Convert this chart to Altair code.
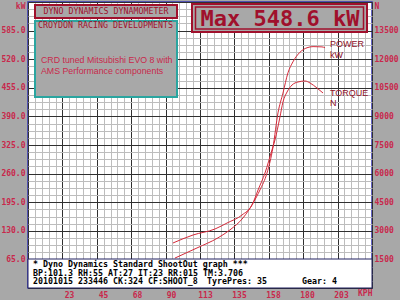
import altair as alt
import pandas as pd

# ---- data ----
speed_power = [92.6, 107.2, 121.1, 129.0, 137.6, 144.3, 148.9, 153.5, 157.5, 160.8,
               164.1, 167.4, 170.7, 175.4, 180.0, 184.0, 189.9, 191.9]
power_kw = [68, 91, 114, 132, 159, 193, 223, 261, 320, 398,
            443, 489, 514, 536, 546, 548.6, 548, 546]

speed_torque = [91.3, 104.6, 119.1, 127.1, 137.0, 143.6, 147.6, 152.2, 156.8, 158.8,
                162.1, 164.1, 166.8, 170.1, 174.0, 178.7, 182.0, 186.6, 190.6]
torque_n = [2360, 2780, 3094, 3409, 3829, 4353, 5140, 6031, 7238, 7762,
            8969, 9755, 10280, 10647, 10804, 10857, 10752, 10490, 10227]

x_ticks = [22.5, 45, 67.5, 90, 112.5, 135, 157.5, 180, 202.5]
kw_ticks = [65, 130, 195, 260, 325, 390, 455, 520, 585, 650]
n_ticks = [1500, 3000, 4500, 6000, 7500, 9000, 10500, 12000, 13500, 15000]

title1 = "DYNO DYNAMICS DYNAMOMETER"
title2 = "CROYDON RACING DEVELOPMENTS"
note_lines = ["CRD tuned Mitsubishi EVO 8 with", "AMS Performance components"]
max_text = "Max 548.6 kW"
info1 = "* Dyno Dynamics Standard ShootOut graph ***"
info2a = "BP:101.3 RH:55 AT:27 IT:23"
info2b = "RR:015 TM:3.706"
info3a = "20101015 233446 CK:324 CF:SHOOT_8"
info3b = "TyrePres: 35"
info3c = "Gear: 4"

# ---- styling ----
W, H = 344, 286
BG = "#a8a8a8"
DARKRED = "#a0102c"
CRIMSON = "#c8284c"
TEAL = "#2aa5a0"
BLUE = "#3434b4"
LINE = "#d42a3a"
MONO = "DejaVu Sans Mono"
SANS = "Liberation Sans"
X_DOMAIN = [-4.6, 223.0]

one = alt.Data(values=[{"a": 1}])

# grid layer (independent grid-unit scales: 10 major x 5 minor, 10 major x 4 minor)
grid_df = pd.DataFrame({"gx": [0], "gy": [0]})
grid = alt.Chart(grid_df).mark_point(opacity=0).encode(
    x=alt.X("gx:Q", scale=alt.Scale(domain=[0, 50], nice=False, zero=False),
            axis=alt.Axis(values=list(range(51)), grid=True,
                          gridColor=alt.condition("datum.value % 5 === 0", alt.value("#303030"), alt.value("#bdbdbd")),
                          gridWidth=1, labels=False, ticks=False, domain=False, title=None,
                          minExtent=0, maxExtent=0)),
    y=alt.Y("gy:Q", scale=alt.Scale(domain=[0, 40], nice=False, zero=False),
            axis=alt.Axis(values=list(range(41)), grid=True,
                          gridColor=alt.condition("datum.value % 4 === 0", alt.value("#303030"), alt.value("#bdbdbd")),
                          gridWidth=1, labels=False, ticks=False, domain=False, title=None,
                          minExtent=0, maxExtent=0)),
)

pdf = pd.DataFrame({"speed": speed_power, "kw": power_kw})
tdf = pd.DataFrame({"speed": speed_torque, "n": torque_n})

power = alt.Chart(pdf).mark_line(color=LINE, strokeWidth=1, interpolate="monotone").encode(
    x=alt.X("speed:Q", scale=alt.Scale(domain=X_DOMAIN, nice=False, zero=False),
            axis=alt.Axis(orient="bottom", values=x_ticks, labelExpr="round(datum.value)",
                          grid=False, ticks=False, tickSize=0, domain=False, title=None,
                          labelFont=MONO, labelFontSize=8, labelFontWeight="bold",
                          labelColor=CRIMSON, labelPadding=3)),
    y=alt.Y("kw:Q", scale=alt.Scale(domain=[0, 650], nice=False, zero=False),
            axis=alt.Axis(orient="left", values=kw_ticks,
                          labelExpr="datum.value == 650 ? 'kW' : format(datum.value, '.1f')",
                          labelFlush=True, grid=False, ticks=False, tickSize=0, domain=False,
                          title=None, labelFont=MONO, labelFontSize=8, labelFontWeight="bold",
                          labelColor=CRIMSON, labelPadding=3)),
)

torque = alt.Chart(tdf).mark_line(color=LINE, strokeWidth=1, interpolate="monotone").encode(
    x=alt.X("speed:Q", scale=alt.Scale(domain=X_DOMAIN, nice=False, zero=False), axis=None),
    y=alt.Y("n:Q", scale=alt.Scale(domain=[0, 15000], nice=False, zero=False),
            axis=alt.Axis(orient="right", values=n_ticks,
                          labelExpr="datum.value == 15000 ? 'N' : format(datum.value, 'd')",
                          labelFlush=True, grid=False, ticks=False, tickSize=0, domain=False,
                          title=None, labelFont=MONO, labelFontSize=8, labelFontWeight="bold",
                          labelColor=CRIMSON, labelPadding=2)),
)


def box(x1, x2, y1, y2, fill, stroke, sw):
    kw = dict(stroke=stroke, strokeWidth=sw)
    if fill is None:
        kw["fillOpacity"] = 0
        kw["fill"] = "white"
    else:
        kw["fill"] = fill
    return alt.Chart(one).mark_rect(**kw).encode(
        x=alt.value(x1), x2=alt.value(x2), y=alt.value(y1), y2=alt.value(y2))


def label(txt, x, y, font=MONO, size=8.3, color=DARKRED, align="left", weight="normal"):
    return alt.Chart(one).mark_text(text=txt, font=font, fontSize=size, color=color,
                                    align=align, baseline="middle", fontWeight=weight).encode(
        x=alt.value(x), y=alt.value(y))


layers = [
    grid, power, torque,
    box(7, 149, 3, 16, BG, DARKRED, 2),
    box(7, 149, 19, 95, BG, TEAL, 2),
    box(164, 339, 2, 30, BG, DARKRED, 2),
    box(167.5, 335.5, 5, 27, None, DARKRED, 1.5),
    box(0, 344, 257, 286, "white", "#202060", 1),
    label(title1, 78, 10, align="center"),
    label(title2, 77.5, 23.5, align="center"),
    label(note_lines[0], 13, 58, font=SANS, size=8.8, color=CRIMSON),
    label(note_lines[1], 13, 68.5, font=SANS, size=8.8, color=CRIMSON),
    label(max_text, 252, 16.5, size=22, color=DARKRED, align="center", weight="bold"),
    label("POWER", 302, 42, font=SANS, size=9, color="#8c1028"),
    label("kW", 302, 52.5, font=SANS, size=9, color="#8c1028"),
    label("TORQUE", 302, 90.5, font=SANS, size=9, color="#8c1028"),
    label("N", 302, 101, font=SANS, size=9, color="#8c1028"),
    label(info1, 5, 263, color="black", weight="bold"),
    label(info2a, 5, 271.5, color="black", weight="bold"),
    label(info2b, 140, 271.5, color="black", weight="bold"),
    label(info3a, 5, 280, color="black", weight="bold"),
    label(info3b, 179, 280, color="black", weight="bold"),
    label(info3c, 274, 280, color="black", weight="bold"),
    label("KPH", 330, 292, size=8, color=CRIMSON, weight="bold"),
]

chart = alt.layer(*layers).resolve_scale(x="independent", y="independent").properties(
    width=W, height=H, background=BG,
    padding={"left": 28, "top": 2, "right": 28, "bottom": 12},
    autosize=alt.AutoSizeParams(type="none"),
).configure_view(fill="white", stroke=BLUE, strokeWidth=1.5)

chart.save("out.html", embed_options={"renderer": "svg", "actions": False})
